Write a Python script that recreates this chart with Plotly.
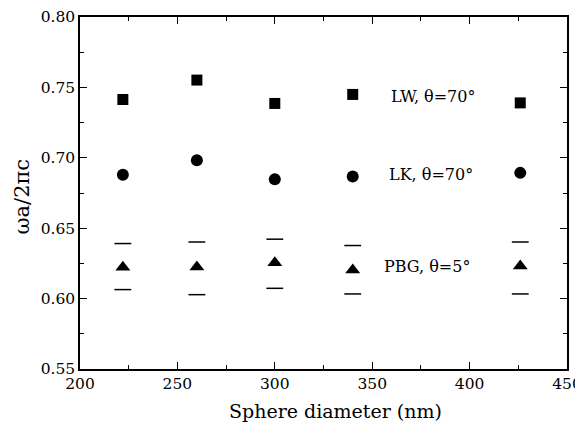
import plotly.graph_objects as go

diameters = [222, 260, 300, 340, 426]
lw_values = [0.7414, 0.7552, 0.7386, 0.7450, 0.7390]
lk_values = [0.6880, 0.6983, 0.6848, 0.6868, 0.6893]
pbg_values = [0.6222, 0.6224, 0.6255, 0.6203, 0.6232]
pbg_upper = [0.6391, 0.6402, 0.6422, 0.6377, 0.6402]
pbg_lower = [0.6064, 0.6028, 0.6073, 0.6033, 0.6033]

labels = ["LW, θ=70°", "LK, θ=70°", "PBG, θ=5°"]
label_x = [381, 380, 378]
label_y = [0.7435, 0.688, 0.6225]

font = "DejaVu Serif"
fig = go.Figure()
fig.add_trace(go.Scatter(x=diameters, y=lw_values, mode="markers",
                         marker=dict(symbol="square", size=11, color="black")))
fig.add_trace(go.Scatter(x=diameters, y=lk_values, mode="markers",
                         marker=dict(symbol="circle", size=12, color="black")))
fig.add_trace(go.Scatter(x=diameters, y=pbg_values, mode="markers",
                         marker=dict(symbol="triangle-up", size=13, color="black")))
for arr in (pbg_upper, pbg_lower):
    fig.add_trace(go.Scatter(x=diameters, y=arr, mode="markers",
                             marker=dict(symbol="line-ew", size=12, color="black",
                                         line=dict(width=1.5, color="black"))))

for t, x, y in zip(labels, label_x, label_y):
    fig.add_annotation(x=x, y=y, text=t, showarrow=False,
                       font=dict(family=font, size=16, color="black"))

# axis titles as annotations for exact placement
fig.add_annotation(xref="paper", yref="paper", x=0.525, y=0, yshift=-29,
                   xanchor="center", yanchor="top", showarrow=False,
                   text="Sphere diameter (nm)", font=dict(family=font, size=19, color="black"))
fig.add_annotation(xref="paper", yref="paper", x=0, y=0.49, xshift=-58,
                   xanchor="center", yanchor="middle", textangle=-90, showarrow=False,
                   text="ωa/2πc", font=dict(family=font, size=21, color="black"))

axis_common = dict(showline=True, linecolor="black", linewidth=1.5, mirror="ticks",
                   ticks="inside", ticklen=7, tickwidth=1.2, tickcolor="black",
                   showgrid=False, zeroline=False, automargin=False,
                   ticklabeloverflow="allow",
                   tickfont=dict(family=font, size=15.5, color="black"))
fig.update_xaxes(range=[200, 450], dtick=50, tick0=200,
                 minor=dict(ticks="inside", ticklen=4, dtick=25, tickcolor="black", tickwidth=1.2),
                 **axis_common)
fig.update_yaxes(range=[0.55, 0.80], dtick=0.05, tick0=0.55, tickformat=".2f",
                 minor=dict(ticks="inside", ticklen=4, dtick=0.025, tickcolor="black", tickwidth=1.2),
                 **axis_common)
fig.update_layout(width=575, height=416, showlegend=False,
                  plot_bgcolor="white", paper_bgcolor="white",
                  margin=dict(l=72, r=15.5, t=9, b=55))
fig.write_html("out.html",
               post_script="document.documentElement.style.overflow='hidden';document.body.style.overflow='hidden';")
